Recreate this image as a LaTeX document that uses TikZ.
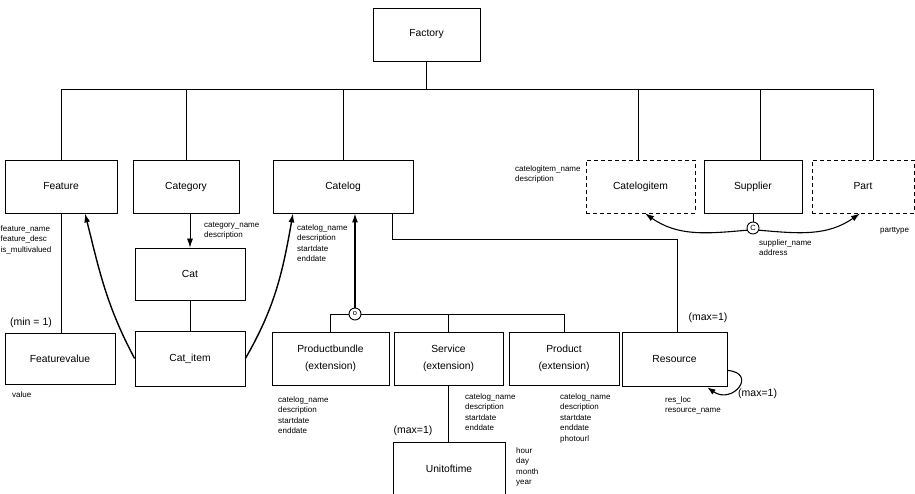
\documentclass[tikz,border=0pt]{standalone}
\usepackage{fontspec}
\setmainfont{Liberation Sans}
\usetikzlibrary{arrows.meta}

\begin{document}
\begin{tikzpicture}[x=1pt,y=-1pt,
        box/.style={draw, line width=0.8pt, inner sep=0pt, align=center,
            minimum height=53pt, font=\fontsize{10.3}{17}\selectfont},
        optbox/.style={box, dash pattern=on 4pt off 3pt},
        attr/.style={anchor=north west, inner sep=0pt, align=left,
            font=\fontsize{8}{10.5}\selectfont},
        lbl/.style={inner sep=0pt, font=\fontsize{10.5}{12}\selectfont},
        link/.style={line width=0.8pt},
        rel/.style={line width=1.4pt, -{Latex[length=9pt,width=6pt]}},
        knot/.style={draw, circle, line width=0.9pt, minimum size=12pt, inner sep=0pt,
            font=\fontsize{7.5}{7.5}\selectfont}]
    \useasboundingbox (0,0) rectangle (915,494);

    % entities
    \node[box, minimum width=107pt] (factory) at (426.5,34.5) {Factory};
    \node[box, minimum width=112pt] (feature) at (61,186.5) {Feature};
    \node[box, minimum width=106pt] (category) at (186,186.5) {Category};
    \node[box, minimum width=140pt] (catelog) at (343,186.5) {Catelog};
    \node[optbox, minimum width=109pt] (catelogitem) at (640.5,186.5) {Catelogitem};
    \node[box, minimum width=98pt] (supplier) at (753,186.5) {Supplier};
    \node[optbox, minimum width=102pt] (part) at (863,186.5) {Part};
    \node[box, minimum width=110pt, minimum height=52pt] (cat) at (190,274) {Cat};
    \node[box, minimum width=110pt, minimum height=51pt] (featurevalue) at (60,358.5) {Featurevalue};
    \node[box, minimum width=110pt, minimum height=55pt] (catitem) at (190,358.5) {Cat\_item};
    \node[box, minimum width=117pt] (prodbundle) at (330.5,358.5) {Productbundle\\(extension)};
    \node[box, minimum width=109pt] (service) at (448.5,358.5) {Service\\(extension)};
    \node[box, minimum width=110pt] (product) at (564,358.5) {Product\\(extension)};
    \node[box, minimum width=105pt, minimum height=54pt] (resource) at (674.5,359) {Resource};
    \node[box, minimum width=112pt, minimum height=54pt] (unitoftime) at (449,469) {Unitoftime};

    % subtype and supplier knots
    \node[knot] (dcirc) at (355,314) {o};
    \node[knot] (ccirc) at (753,228) {C};

    % attributes
    \node[attr] (featureattr) at (0.5,225.5) {feature\_name\\feature\_desc\\is\_multivalued};
    \node[attr] (valueattr) at (12,391.5) {value};
    \node[attr] (categoryattr) at (204,222) {category\_name\\description};
    \node[attr] (catelogattr) at (297,224.5) {catelog\_name\\description\\startdate\\enddate};
    \node[attr] (catelogitemattr) at (515,165.5) {catelogitem\_name\\description};
    \node[attr] (supplierattr) at (759,239.5) {supplier\_name\\address};
    \node[attr] (partattr) at (880,227.5) {parttype};
    \node[attr] (prodbundleattr) at (278,396.5) {catelog\_name\\description\\startdate\\enddate};
    \node[attr] (serviceattr) at (465,393.5) {catelog\_name\\description\\startdate\\enddate};
    \node[attr] (productattr) at (560,393.5) {catelog\_name\\description\\startdate\\enddate\\photourl};
    \node[attr] (unitattr) at (516,447.5) {hour\\day\\month\\year};
    \node[attr] (resourceattr) at (665,396.5) {res\_loc\\resource\_name};

    % cardinalities
    \node[lbl] (minone) at (31,323) {(min = 1)};
    \node[lbl] (resmax) at (708,318) {(max=1)};
    \node[lbl] (unitmax) at (413,431) {(max=1)};
    \node[lbl, anchor=west] (loopmax) at (738,394) {(max=1)};

    % factory bus
    \coordinate (bus) at (426.5,89);
    \draw[link] (factory.south) -- (bus);
    \foreach \n/\dx in {feature/0,category/0,catelog/0,catelogitem/-2,supplier/7,part/10}
        \draw[link] (bus) -| ([xshift=\dx pt]\n.north);

    % tree on the left
    \draw[link] (feature.south) -- (feature.south |- featurevalue.north);
    \draw[link, -{Latex[length=9pt,width=6pt]}] (cat.north |- category.south) -- (cat.north);
    \draw[link] (cat.south) -- (catitem.north);
    \draw[rel] (catitem.west) to[out=118,in=-76] ([xshift=24pt]feature.south);
    \draw[rel] (catitem.east) to[out=60,in=-100] ([xshift=-50pt]catelog.south);

    % catelog subtypes
    \draw[rel] (dcirc.north) -- (dcirc |- catelog.south);
    \draw[link] (dcirc.west) -| (prodbundle.north);
    \draw[link] (dcirc.east) -| (product.north);
    \draw[link] (service.north) |- (dcirc.east);
    \draw[link] (service.south) -- (service.south |- unitoftime.north);
    \draw[link] ([xshift=49pt]catelog.south) -- ++(0,26) -| ([xshift=3pt]resource.north);
    \draw[line width=1.1pt, -{Latex[length=8pt,width=6pt]}] ([yshift=16pt]resource.south east)
        to[out=-5,in=-35,looseness=3] ([xshift=-20pt,yshift=-1pt]resource.south east);

    % supplier links
    \draw[link] (supplier.south) -- (ccirc.north);
    \draw[rel, line width=1.1pt] (ccirc.200) to[out=185,in=-35] ([xshift=4.5pt]catelogitem.south);
    \draw[rel, line width=1.1pt] (ccirc.-20) to[out=-5,in=-145] ([xshift=-3pt]part.south);
\end{tikzpicture}
\end{document}
